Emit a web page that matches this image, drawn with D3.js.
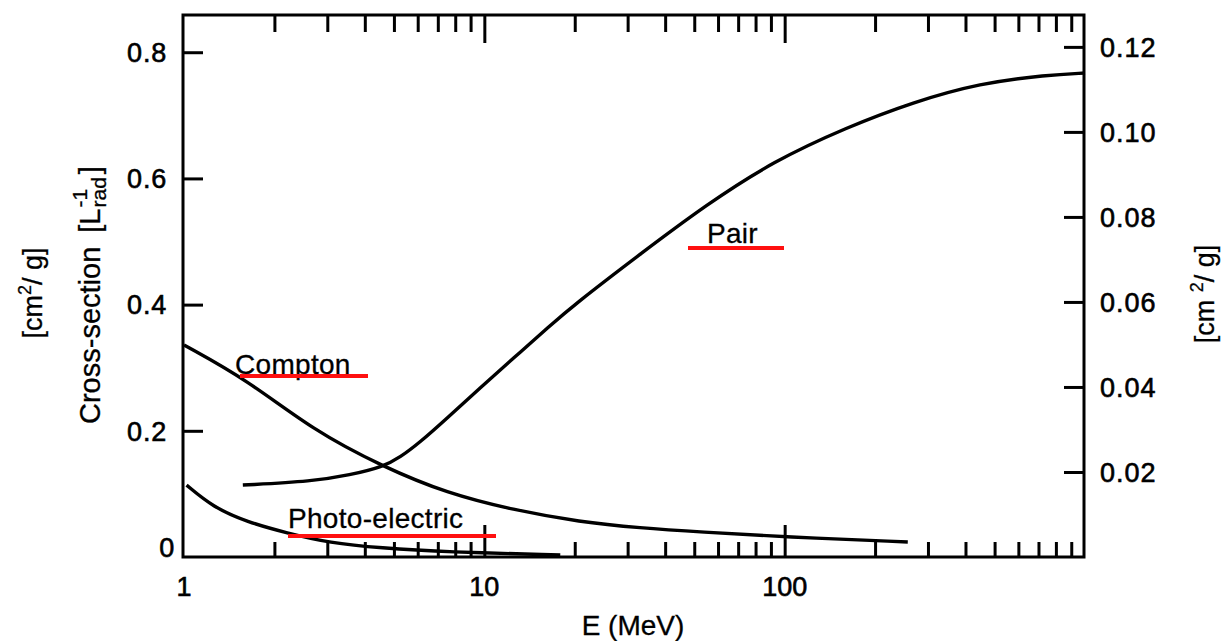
<!DOCTYPE html>
<html><head><meta charset="utf-8">
<script src="https://cdn.jsdelivr.net/npm/d3@7"></script>
<style>
body{margin:0;background:#fff}
svg{display:block;background:#fff}
text{font-family:"Liberation Sans",Arial,Helvetica,sans-serif;fill:#000;stroke:#000;stroke-width:0.3px}
text.tl{stroke-width:0.6px}
</style></head><body>
<svg id="chart" width="1232" height="641"></svg>
<script>
// ---- data ----
const energyLabels = [1, 10, 100];
const energyMajor = [10, 100];
const energyMinor = [2,3,4,5,6,7,8,9,20,30,40,50,60,70,80,90,200,300,400,500,600,700,800,900];
const leftTicks = [0.2, 0.4, 0.6, 0.8];
const leftLabels = [0, 0.2, 0.4, 0.6, 0.8];
const rightTicks = [0.02, 0.04, 0.06, 0.08, 0.10, 0.12];

const comptonE = [1, 1.62, 2.69, 4.60, 7.51, 12.5, 20.8, 33.0, 52.3, 101, 257];
const comptonV = [0.336, 0.281, 0.201, 0.143, 0.101, 0.0745, 0.0555, 0.046, 0.0396, 0.0317, 0.0238];
const pairE = [1.57, 2.69, 3.57, 4.60, 5.24, 6.11, 7.51, 9.67, 12.5, 16.5, 19.7, 33.0, 55.1, 91.5, 161, 268, 447, 747, 1000];
const pairV = [0.114, 0.120, 0.130, 0.143, 0.158, 0.182, 0.220, 0.268, 0.315, 0.366, 0.398, 0.480, 0.559, 0.627, 0.681, 0.721, 0.751, 0.764, 0.767];
const photoE = [1.02, 1.25, 1.62, 2.20, 3.06, 4.49, 7.51, 17.9];
const photoV = [0.114, 0.079, 0.0555, 0.038, 0.0222, 0.0143, 0.0079, 0.0032];

const seriesNames = ["Compton", "Pair", "Photo-electric"];

// ---- layout ----
const svg = d3.select("#chart");
const x = d3.scaleLog().domain([1, 1000]).range([184, 1085]);
const yL = d3.scaleLinear().domain([0, 0.859]).range([557, 15]);
const yR = d3.scaleLinear().domain([0, 0.1275]).range([557, 15]);
const plotL = x.range()[0] - 1, plotR = x.range()[1] - 1;
const plotT = yL.range()[1], plotB = yL.range()[0];

function styleAxis(g){
  g.select(".domain").remove();
  g.selectAll(".tick line").attr("stroke", "#000").attr("stroke-width", 3);
  g.selectAll(".tick text").remove();
}

// ticks
svg.append("g").attr("transform", `translate(0,${plotB})`)
  .call(d3.axisBottom(x).tickValues(energyMinor).tickSize(-15).tickFormat("")).call(styleAxis);
svg.append("g").attr("transform", `translate(0,${plotB})`)
  .call(d3.axisBottom(x).tickValues(energyMajor).tickSize(-32).tickFormat("")).call(styleAxis);
svg.append("g").attr("transform", `translate(0,${plotT})`)
  .call(d3.axisTop(x).tickValues(energyMinor).tickSize(-17).tickFormat("")).call(styleAxis);
svg.append("g").attr("transform", `translate(0,${plotT})`)
  .call(d3.axisTop(x).tickValues(energyMajor).tickSize(-28).tickFormat("")).call(styleAxis);
svg.append("g").attr("transform", `translate(${plotL},0)`)
  .call(d3.axisLeft(yL).tickValues(leftTicks).tickSize(-20).tickFormat("")).call(styleAxis);
svg.append("g").attr("transform", `translate(${plotR},0)`)
  .call(d3.axisRight(yR).tickValues(rightTicks).tickSize(-20).tickFormat("")).call(styleAxis);

// frame
svg.append("rect").attr("x", plotL).attr("y", plotT)
  .attr("width", plotR - plotL).attr("height", plotB - plotT)
  .attr("fill", "none").attr("stroke", "#000").attr("stroke-width", 3);

// curves
const line = d3.line().x(d => x(d[0])).y(d => yL(d[1])).curve(d3.curveBasis);
const series = [
  d3.zip(comptonE, comptonV),
  d3.zip(pairE, pairV),
  d3.zip(photoE, photoV)
];
svg.append("g").selectAll("path").data(series).join("path")
  .attr("d", line).attr("fill", "none").attr("stroke", "#000")
  .attr("stroke-width", 3.4).attr("stroke-linejoin", "round");

// tick labels
svg.append("g").selectAll("text").data(energyLabels).join("text").attr("class", "tl")
  .attr("x", d => x(d)).attr("y", 596).attr("text-anchor", "middle")
  .attr("font-size", 27).text(d => d3.format("d")(d));
svg.append("g").selectAll("text").data(leftLabels).join("text").attr("class", "tl")
  .attr("x", d => d === 0 ? 175 : 167)
  .attr("y", d => d === 0 ? yL(d) - 10 : yL(d)).attr("dy", "0.36em")
  .attr("text-anchor", "end").attr("font-size", 27).attr("letter-spacing", 0.8)
  .text(d => d === 0 ? "0" : d3.format(".1f")(d));
svg.append("g").selectAll("text").data(rightTicks).join("text").attr("class", "tl")
  .attr("x", 1100).attr("y", d => yR(d)).attr("dy", "0.36em")
  .attr("text-anchor", "start").attr("font-size", 27).attr("letter-spacing", 1)
  .text(d => d3.format(".2f")(d));

// series labels with red underlines
const labelPos = [[235, 374], [707, 243], [288, 528]];
const underline = [[240, 368, 376], [688, 784, 248], [288, 496, 536]];
svg.append("g").selectAll("text").data(seriesNames).join("text")
  .attr("x", (d, i) => labelPos[i][0]).attr("y", (d, i) => labelPos[i][1])
  .attr("font-size", 28).attr("letter-spacing", 0.3).text(d => d);
svg.append("g").selectAll("line").data(underline).join("line")
  .attr("x1", d => d[0]).attr("x2", d => d[1]).attr("y1", d => d[2]).attr("y2", d => d[2])
  .attr("stroke", "#ff1010").attr("stroke-width", 4);

// x axis title
svg.append("text").attr("x", 633).attr("y", 635).attr("text-anchor", "middle")
  .attr("font-size", 28).text("E (MeV)");

// left outer unit label
const lu = svg.append("text").attr("transform", "translate(42,293) rotate(-90)")
  .attr("text-anchor", "middle").attr("font-size", 27);
lu.append("tspan").text("[cm");
lu.append("tspan").attr("font-size", 18).attr("dy", -11).text("2");
lu.append("tspan").attr("dy", 11).text("/ g]");

// left inner title: Cross-section [L^-1_rad]
const gT = svg.append("g").attr("transform", "translate(100,424) rotate(-90)");
const cs = gT.append("text").attr("x", 0).attr("y", 0).attr("font-size", 29).text("Cross-section");
const csW = cs.node().getComputedTextLength();
const bl = gT.append("text").attr("x", csW + 14).attr("y", 0).attr("font-size", 29).text("[L");
const blW = bl.node().getComputedTextLength();
const sx = csW + 14 + blW + 1;
const sup = gT.append("text").attr("x", sx).attr("y", -13).attr("font-size", 21).text("-1");
const sub = gT.append("text").attr("x", sx).attr("y", 6).attr("font-size", 21).text("rad");
const wmax = Math.max(sup.node().getComputedTextLength(), sub.node().getComputedTextLength());
gT.append("text").attr("x", sx + wmax + 3).attr("y", 0).attr("font-size", 29).text("]");

// right unit label
const ru = svg.append("text").attr("transform", "translate(1214,294) rotate(-90)")
  .attr("text-anchor", "middle").attr("font-size", 27);
ru.append("tspan").text("[cm ");
ru.append("tspan").attr("font-size", 18).attr("dy", -11).text("2");
ru.append("tspan").attr("dy", 11).text("/ g]");
</script>
</body></html>
